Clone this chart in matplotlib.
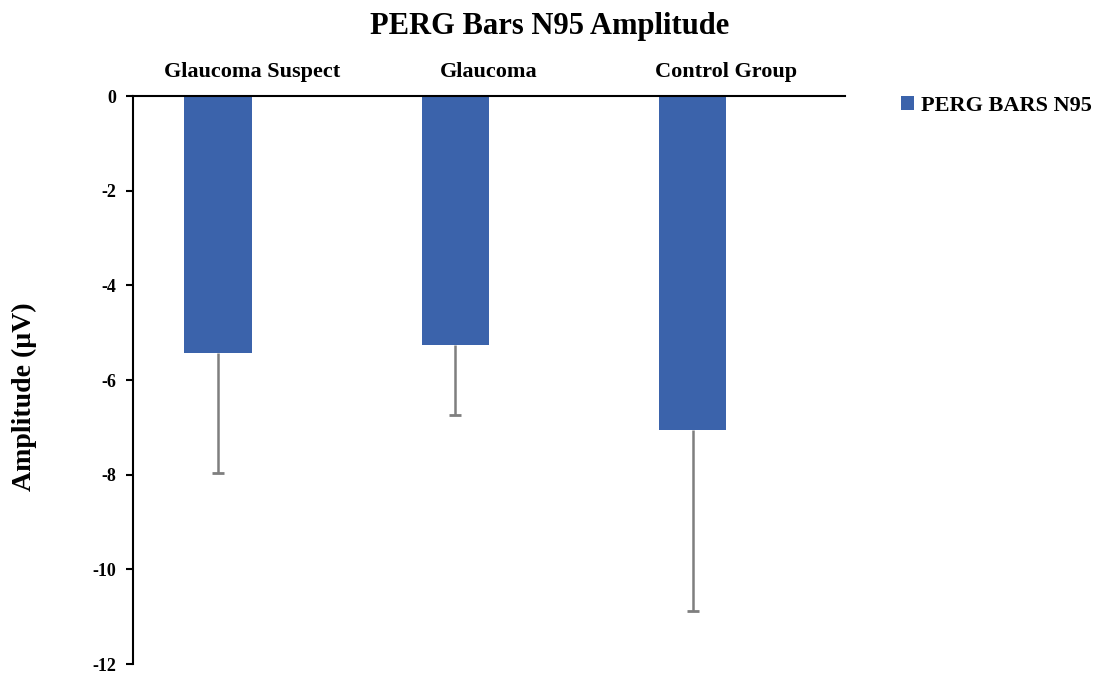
import numpy as np
import matplotlib.pyplot as plt

categories = ["Glaucoma Suspect", "Glaucoma", "Control Group"]
n95_mean = [-5.43, -5.26, -7.06]
n95_err = [2.54, 1.48, 3.82]
yticks = [0, -2, -4, -6, -8, -10, -12]

bar_color = "#3b63ab"
err_color = "#7f7f7f"

plt.rcParams["font.family"] = ["Liberation Serif", "DejaVu Serif"]
plt.rcParams["font.weight"] = "bold"

fig = plt.figure(figsize=(10.99, 6.77), dpi=100)
ax = fig.add_axes([0.121, 0.019, 0.648, 0.839])

x = np.arange(len(categories))
means = np.array(n95_mean)
errs = np.array(n95_err)
width = 0.283

ax.bar(x, means, width=-width, align="edge", color=bar_color,
       label="PERG BARS N95", zorder=2)
bx = x - width / 2
ax.errorbar(bx, means, yerr=[errs, np.zeros_like(errs)], fmt="none",
            ecolor=err_color, elinewidth=1.8, capsize=0, zorder=3)
ax.plot(bx, means - errs, ls="none", marker="_", ms=9, mew=2,
        color=err_color, zorder=3)

ax.set_xlim(-0.5, 2.5)
ax.set_ylim(-12, 0)
ax.set_yticks(yticks)
ax.set_yticklabels([str(t) for t in yticks], fontsize=13, fontweight="bold")

ax.xaxis.tick_top()
ax.set_xticks(x)
ax.set_xticklabels(categories, fontsize=16, fontweight="bold")
ax.tick_params(axis="x", length=0, pad=10)
ax.tick_params(axis="y", length=5, width=1.5, pad=7)

for s in ["right", "bottom"]:
    ax.spines[s].set_visible(False)
ax.spines["top"].set_linewidth(1.5)
ax.spines["left"].set_linewidth(1.5)

ax.set_ylabel("Amplitude (\u00b5V)", fontsize=20, fontweight="bold")
ax.yaxis.set_label_coords(-0.135, 0.47)

fig.suptitle("PERG Bars N95 Amplitude", fontsize=22, fontweight="bold", y=0.982)

ax.legend(loc="upper left", bbox_to_anchor=(1.05, 1.035), frameon=False,
          handlelength=0.6, handleheight=0.6, handletextpad=0.3,
          prop={"size": 16, "weight": "bold"})

fig.savefig("out.png", dpi=100)
